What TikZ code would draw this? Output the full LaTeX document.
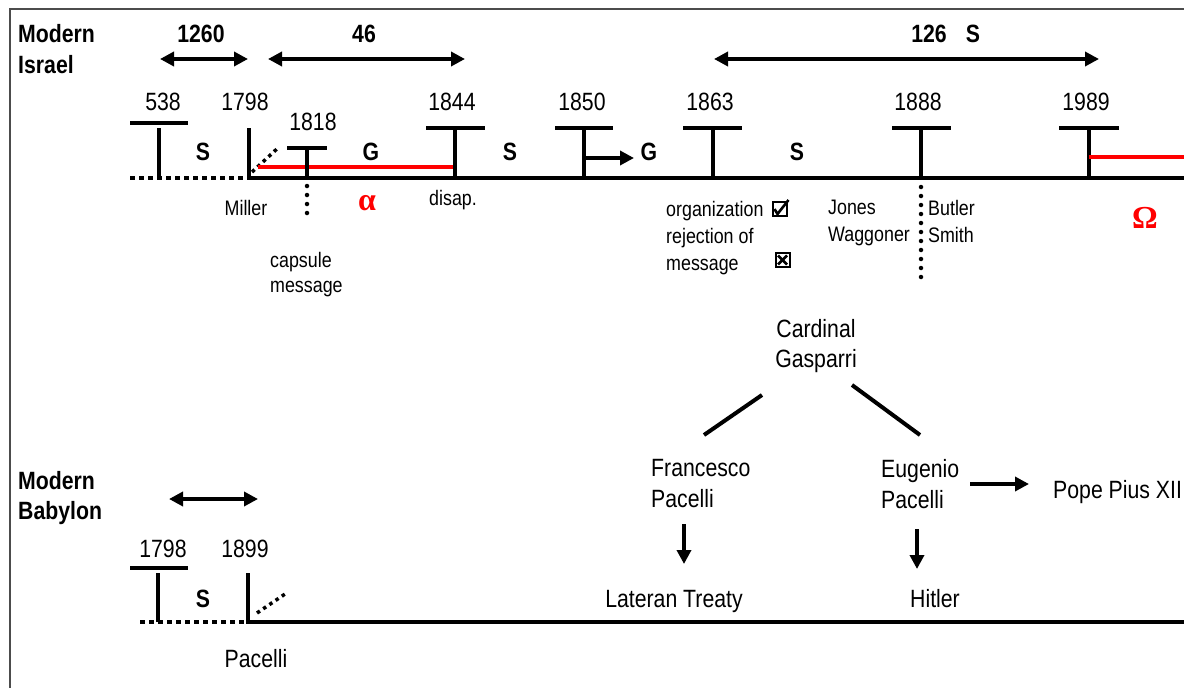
\documentclass[tikz,border=0pt]{standalone}
\usepackage{fontspec}
\setmainfont{Liberation Sans}[FakeStretch=0.85]
\newfontfamily\grkfont{Liberation Serif}
\usetikzlibrary{arrows.meta}
\begin{document}
\begin{tikzpicture}[x=1pt,y=-1pt,
  txt/.style={font=\fontsize{25}{31}\selectfont, inner sep=0pt},
  btxt/.style={font=\fontsize{25}{31}\selectfont\bfseries, inner sep=0pt, align=left},
  small/.style={font=\fontsize{21}{27}\selectfont, inner sep=0pt, align=left},
  axis/.style={line width=4pt},
  bar/.style={line width=4pt},
  frame/.style={line width=1.6pt, draw=black!70},
  dots/.style={line width=4pt, dash pattern=on 4.5pt off 4.5pt},
  ddots/.style={line width=3.5pt, dash pattern=on 3.5pt off 4pt},
  vdots/.style={line width=4.5pt, line cap=round, dash pattern=on 0pt off 9pt},
  redline/.style={line width=4pt, draw=red},
  span/.style={line width=4pt, {Triangle[length=14pt,width=14pt]}-{Triangle[length=14pt,width=14pt]}},
  arr/.style={line width=4pt, -{Triangle[length=14pt,width=14pt]}},
  greek/.style={font=\grkfont\bfseries\fontsize{32}{32}\selectfont, text=red, inner sep=0pt},
  cbox/.style={draw, line width=2pt, minimum size=14pt, inner sep=0pt},
  tickmark/.style={line width=2.6pt},
]
\useasboundingbox (0,0) rectangle (1184,688);
\draw[frame] (10,688) -- (10,9) -- (1184,9);

% ================= Modern Israel =================
\node[btxt, anchor=north west] (isr) at (18,24) {Modern\\Israel};

% spans
\coordinate (s1a) at (160,59); \coordinate (s1b) at (248,59);
\coordinate (s2a) at (268,59); \coordinate (s2b) at (465,59);
\coordinate (s3a) at (714,59); \coordinate (s3b) at (1099,59);
\draw[span] (s1a) -- (s1b);
\draw[span] (s2a) -- (s2b);
\draw[span] (s3a) -- (s3b);
\node[btxt, anchor=base] (l1260) at (201,42) {1260};
\node[btxt, anchor=base] (l46) at (364,42) {46};
\node[txt, anchor=base] (l126) at (929,42) {\bfseries 126};
\node[txt, anchor=base] (l126s) at (973,42) {\bfseries S};

% axis
\coordinate (iL) at (130,178);
\coordinate (i1798) at (249,178);
\coordinate (iR) at (1184,178);
\draw[dots] (iL) -- (i1798);
\draw[axis] (247,178) -- (iR);

% 538
\draw[bar] (130,123) -- (188,123);
\draw[bar] (159,128) -- (159,178);
\node[txt, anchor=base] (y538) at (163,110) {538};
% 1798
\draw[bar] (249,128) -- (249,180);
\node[txt, anchor=base] (y1798) at (245,110) {1798};
\coordinate (d1a) at (252,172); \coordinate (d1b) at (279,147);
\draw[ddots] (d1a) -- (d1b);
% red alpha line
\coordinate (ra) at (258,167); \coordinate (rb) at (455,167);
\draw[redline] (ra) -- (rb);
% 1818
\draw[bar] (287,148) -- (327,148);
\draw[bar] (307,148) -- (307,178);
\node[txt, anchor=base] (y1818) at (313,130) {1818};
\coordinate (v1a) at (307,186); \coordinate (v1b) at (307,222);
\draw[vdots] (v1a) -- (v1b);
% 1844
\draw[bar] (426,128) -- (485,128);
\draw[bar] (455,128) -- (455,178);
\node[txt, anchor=base] (y1844) at (452,110) {1844};
% 1850
\draw[bar] (555,128) -- (613,128);
\draw[bar] (584,128) -- (584,178);
\node[txt, anchor=base] (y1850) at (582,110) {1850};
\coordinate (g1) at (584,158); \coordinate (g2) at (634,158);
\draw[arr] (g1) -- (g2);
% 1863
\draw[bar] (683,128) -- (742,128);
\draw[bar] (713,128) -- (713,178);
\node[txt, anchor=base] (y1863) at (710,110) {1863};
% 1888
\draw[bar] (892,128) -- (951,128);
\draw[bar] (921,128) -- (921,178);
\node[txt, anchor=base] (y1888) at (918,110) {1888};
\coordinate (v2a) at (921,187); \coordinate (v2b) at (921,283);
\draw[vdots] (v2a) -- (v2b);
% 1989
\draw[bar] (1059,128) -- (1119,128);
\draw[bar] (1089,128) -- (1089,178);
\node[txt, anchor=base] (y1989) at (1086,110) {1989};
\coordinate (rc) at (1089,157); \coordinate (rd) at (1184,157);
\draw[redline] (rc) -- (rd);

% S / G letters
\node[txt, anchor=base] (iS1) at (203,160) {\bfseries S};
\node[txt, anchor=base] (iG1) at (371,160) {\bfseries G};
\node[txt, anchor=base] (iS2) at (510,160) {\bfseries S};
\node[txt, anchor=base] (iG2) at (649,160) {\bfseries G};
\node[txt, anchor=base] (iS3) at (797,160) {\bfseries S};

% under-axis labels
\node[small, anchor=base] (miller) at (246,215) {Miller};
\node[greek] (alpha) at (367,203) {α};
\node[small, anchor=base west] (disap) at (429,205) {disap.};
\node[small, anchor=north west, font=\fontsize{21}{25}\selectfont] (caps) at (270,252) {capsule\\message};
\node[small, anchor=north west] (org) at (666,201) {organization\\rejection of\\message};
% check boxes
\node[cbox] (chk) at (779.5,209) {};
\draw[tickmark] ([shift={(3,0)}]chk.west) -- ([shift={(-2,-3)}]chk.south) -- ([shift={(1,-1)}]chk.north east);
\node[cbox] (crs) at (782.5,260) {};
\draw[tickmark] ([shift={(3.5,3.5)}]crs.north west) -- ([shift={(-3.5,-3.5)}]crs.south east);
\draw[tickmark] ([shift={(-3.5,3.5)}]crs.north east) -- ([shift={(3.5,-3.5)}]crs.south west);
\node[small, anchor=north west] (jones) at (828,200) {Jones\\Waggoner};
\node[small, anchor=north west] (butler) at (928,200) {Butler\\Smith};
\node[greek] (omega) at (1145,218) {Ω};

% ================= Gasparri tree =================
\node[txt, align=center, anchor=north, font=\fontsize{25}{30}\selectfont] (gasp) at (816,319) {Cardinal\\Gasparri};
\coordinate (ga) at (762,395); \coordinate (gb) at (704,435);
\coordinate (gc) at (852,385); \coordinate (gd) at (920,435);
\draw[bar] (ga) -- (gb);
\draw[bar] (gc) -- (gd);
\node[txt, align=left, anchor=north west] (fran) at (651,459) {Francesco\\Pacelli};
\node[txt, align=left, anchor=north west] (eug) at (881,459) {Eugenio\\Pacelli};
\node[txt, anchor=base west] (pope) at (1053,498) {Pope Pius XII};
\coordinate (ea) at (970,484); \coordinate (eb) at (1029,484);
\draw[arr] (ea) -- (eb);
\coordinate (fa) at (684,524); \coordinate (fb) at (684,564);
\draw[arr] (fa) -- (fb);
\coordinate (ha) at (917,529); \coordinate (hb) at (917,569);
\draw[arr] (ha) -- (hb);
\node[txt, anchor=base] (lat) at (674,607) {Lateran Treaty};
\node[txt, anchor=base] (hit) at (935,607) {Hitler};

% ================= Modern Babylon =================
\node[btxt, anchor=north west, font=\fontsize{25}{30}\selectfont\bfseries] (bab) at (18,471) {Modern\\Babylon};
\coordinate (bs1) at (169,499); \coordinate (bs2) at (258,499);
\draw[span] (bs1) -- (bs2);
\node[txt, anchor=base] (b1798) at (163,557) {1798};
\node[txt, anchor=base] (b1899) at (245,557) {1899};
\draw[bar] (130,568) -- (188,568);
\draw[bar] (158,573) -- (158,622);
\draw[bar] (248,573) -- (248,624);
\coordinate (bL) at (140,622); \coordinate (bM) at (268,622); \coordinate (bR) at (1184,622);
\draw[dots] (bL) -- (bM);
\draw[axis] (246,622) -- (bR);
\coordinate (d2a) at (257,613); \coordinate (d2b) at (288,592);
\draw[ddots] (d2a) -- (d2b);
\node[txt, anchor=base] (bS) at (203,607) {\bfseries S};
\node[txt, anchor=base] (bpac) at (256,667) {Pacelli};
\end{tikzpicture}
\end{document}
